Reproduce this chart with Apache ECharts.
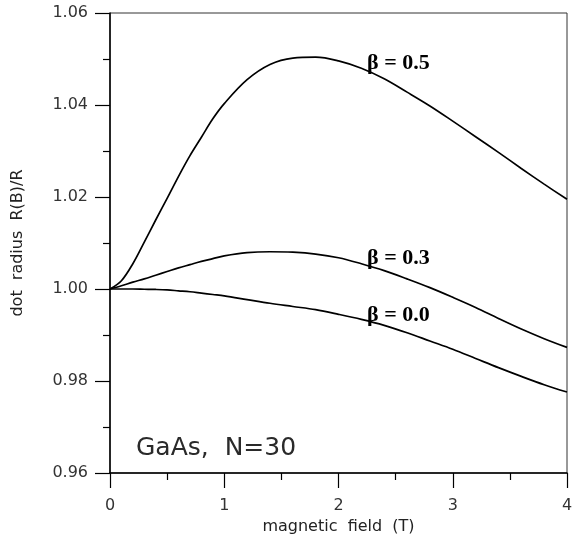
<!DOCTYPE html>
<html>
<head>
<meta charset="utf-8">
<script src="https://cdn.jsdelivr.net/npm/echarts@6/dist/echarts.min.js"></script>
<style>
  html, body { margin: 0; padding: 0; background: #fff; }
  #chart { width: 583px; height: 546px; }
</style>
</head>
<body>
<div id="chart"></div>
<script>
// values: dot radius R(B)/R vs magnetic field (T)
var fieldB = [0, 0.1, 0.2, 0.3, 0.4, 0.5, 0.6, 0.7, 0.8, 0.9, 1.0, 1.2, 1.4, 1.6, 1.8, 2.0,
              2.2, 2.4, 2.6, 2.8, 3.0, 3.2, 3.4, 3.6, 3.8, 4.0];
var beta05 = [1.000, 1.0018, 1.0055, 1.0102, 1.015, 1.0197, 1.0245, 1.029, 1.033, 1.037, 1.0403,
              1.0455, 1.0488, 1.0502, 1.0504, 1.0496, 1.048, 1.0457, 1.0428, 1.0398, 1.0365,
              1.0331, 1.0297, 1.0262, 1.0228, 1.0195];
var beta03 = [1.000, 1.0007, 1.0015, 1.0022, 1.003, 1.0038, 1.0046, 1.0053, 1.006, 1.0066, 1.0072,
              1.0079, 1.0081, 1.008, 1.0076, 1.0068, 1.0055, 1.004, 1.0022, 1.0003, 0.9982,
              0.996, 0.9936, 0.9913, 0.9892, 0.9873];
var beta00 = [1.000, 1.000, 1.000, 0.99995, 0.9999, 0.9998, 0.9996, 0.9994, 0.9991, 0.9988, 0.9985,
              0.9977, 0.9969, 0.9962, 0.9955, 0.9945, 0.9934, 0.9921, 0.9905, 0.9887, 0.9869,
              0.9849, 0.9829, 0.981, 0.9792, 0.9776];

// curve labels: [text, B, value]
var curveLabels = [
    ['\u03b2 = 0.5', 2.25, 1.0491],
    ['\u03b2 = 0.3', 2.25, 1.0067],
    ['\u03b2 = 0.0', 2.25, 0.9943]
];
var yTicks = [0.96, 0.98, 1.00, 1.02, 1.04, 1.06];

function pairs(ys) {
    return fieldB.map(function (b, i) { return [b, ys[i]]; });
}

function makeSeries(name, ys, lbl) {
    return {
        name: name,
        type: 'line',
        data: pairs(ys),
        smooth: 0.35,
        showSymbol: false,
        lineStyle: { color: '#000', width: 1.7 },
        markPoint: {
            symbol: 'circle',
            symbolSize: 0,
            silent: true,
            data: [{ coord: [lbl[1], lbl[2]], value: lbl[0] }],
            label: {
                show: true,
                position: 'right',
                distance: 0,
                formatter: lbl[0],
                color: '#000',
                fontFamily: 'Liberation Serif',
                fontWeight: 'bold',
                fontSize: 22
            }
        }
    };
}

var chart = echarts.init(document.getElementById('chart'));

var tickFont = { fontFamily: 'DejaVu Sans', fontSize: 16, color: '#333' };

var option = {
    animation: false,
    backgroundColor: '#fff',
    title: {
        text: 'GaAs,  N=30',
        left: 131,
        top: 431,
        textStyle: { fontFamily: 'DejaVu Sans', fontWeight: 'normal', fontSize: 25, color: '#2a2a2a' }
    },
    grid: {
        left: 110, right: 16, top: 13, bottom: 73,
        show: true, borderColor: '#333', borderWidth: 1
    },
    xAxis: {
        type: 'value',
        min: 0, max: 4, interval: 1,
        name: 'magnetic  field  (T)',
        nameLocation: 'middle',
        nameGap: 46,
        nameTextStyle: { fontFamily: 'DejaVu Sans', fontSize: 16, color: '#222' },
        axisLine: { show: true, onZero: false, lineStyle: { color: '#000', width: 1.5 } },
        axisTick: { show: true, inside: false, length: 15, lineStyle: { color: '#000', width: 1.2 } },
        minorTick: { show: true, splitNumber: 2, length: 7, lineStyle: { color: '#000', width: 1.2 } },
        splitLine: { show: false },
        axisLabel: Object.assign({ margin: 25 }, tickFont)
    },
    yAxis: {
        type: 'value',
        min: yTicks[0], max: yTicks[yTicks.length - 1], interval: 0.02,
        name: 'dot  radius  R(B)/R',
        nameLocation: 'middle',
        nameGap: 84,
        nameTextStyle: { fontFamily: 'DejaVu Sans', fontSize: 16, color: '#222' },
        axisLine: { show: true, onZero: false, lineStyle: { color: '#000', width: 1.5 } },
        axisTick: { show: true, inside: false, length: 15, lineStyle: { color: '#000', width: 1.2 } },
        minorTick: { show: true, splitNumber: 2, length: 7, lineStyle: { color: '#000', width: 1.2 } },
        splitLine: { show: false },
        axisLabel: Object.assign({
            margin: 22,
            formatter: function (v) { return v.toFixed(2); }
        }, tickFont)
    },
    series: [
        makeSeries('beta 0.5', beta05, curveLabels[0]),
        makeSeries('beta 0.3', beta03, curveLabels[1]),
        makeSeries('beta 0.0', beta00, curveLabels[2])
    ]
};

chart.setOption(option);
</script>
</body>
</html>
